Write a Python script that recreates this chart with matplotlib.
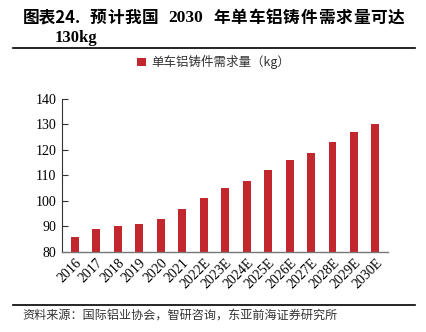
import matplotlib
matplotlib.use("Agg")
import matplotlib.pyplot as plt
from matplotlib.lines import Line2D

categories = ["2016", "2017", "2018", "2019", "2020", "2021", "2022E", "2023E",
              "2024E", "2025E", "2026E", "2027E", "2028E", "2029E", "2030E"]
values = [86, 89, 90, 91, 93, 97, 101, 105, 108, 112, 116, 119, 123, 127, 130]
yticks = [80, 90, 100, 110, 120, 130, 140]
series_name = "单车铝铸件需求量（kg）"
title_parts = ["图表24.", "预计我国", "2030", "年单车铝铸件需求量可达"]
title2 = "130kg"
source = "资料来源：国际铝业协会，智研咨询，东亚前海证券研究所"

CJK = ["Noto Sans CJK SC", "DejaVu Sans"]
SERIF = ["Liberation Serif", "Noto Sans CJK SC"]
bar_color = "#C1272D"

W, H = 426, 332
fig = plt.figure(figsize=(W / 100, H / 100), dpi=100)
ax = fig.add_axes([0.1455, 0.241, 0.766, 0.461])

x = range(len(categories))
ax.bar(x, values, width=0.37, color=bar_color, label=series_name, zorder=2)
ax.set_ylim(80, 140)
ax.set_xlim(-0.6, len(categories) - 0.4)
ax.set_yticks(yticks)
ax.set_yticklabels([str(v) for v in yticks], family=SERIF, fontsize=10)
ax.set_xticks(list(x))
ax.set_xticklabels(categories, rotation=45, ha="right", rotation_mode="anchor",
                   family=SERIF, fontsize=10)
ax.tick_params(axis="y", direction="in", length=4, width=0.8, colors="#333333", pad=4)
ax.tick_params(axis="x", length=0, pad=3)
for lbl in ax.get_yticklabels() + ax.get_xticklabels():
    lbl.set_color("black")
for s in ["top", "right"]:
    ax.spines[s].set_visible(False)
ax.spines["left"].set_color("#333333")
ax.spines["bottom"].set_color("#777777")
ax.spines["left"].set_linewidth(0.8)
ax.spines["bottom"].set_linewidth(1.0)

leg = ax.legend(loc="lower center", bbox_to_anchor=(0.465, 1.12), frameon=False,
                prop={"family": CJK, "size": 9}, handlelength=0.7, handleheight=0.7,
                handletextpad=0.4)
for t in leg.get_texts():
    t.set_color("#333333")

# Title line 1 (letter-spaced, placed segment by segment in pixel coords)
ty = 1 - 18 / H
fig.text(23 / W, ty, title_parts[0], family=CJK, fontsize=12, fontweight="bold", va="center")
for i, ch in enumerate(title_parts[1]):
    fig.text((90 + i * 17.2) / W, ty, ch, family=CJK, fontsize=12, fontweight="bold", va="center")
fig.text(168 / W, ty, title_parts[2], family=SERIF, fontsize=12.5, fontweight="bold", va="center")
for i, ch in enumerate(title_parts[3]):
    fig.text((213 + i * 17.5) / W, ty, ch, family=CJK, fontsize=12, fontweight="bold", va="center")
fig.text(55 / W, 1 - 38 / H, title2, family=SERIF, fontsize=12, fontweight="bold", va="center")

fig.add_artist(Line2D([0.03, 0.975], [0.855, 0.855], color="black", lw=1.2,
                      transform=fig.transFigure))
fig.add_artist(Line2D([0.03, 0.975], [0.082, 0.082], color="black", lw=1.2,
                      transform=fig.transFigure))
fig.text(0.052, 0.05, source, family=CJK, fontsize=8.7, color="#333333", va="center")

fig.savefig("out.png", dpi=100)
